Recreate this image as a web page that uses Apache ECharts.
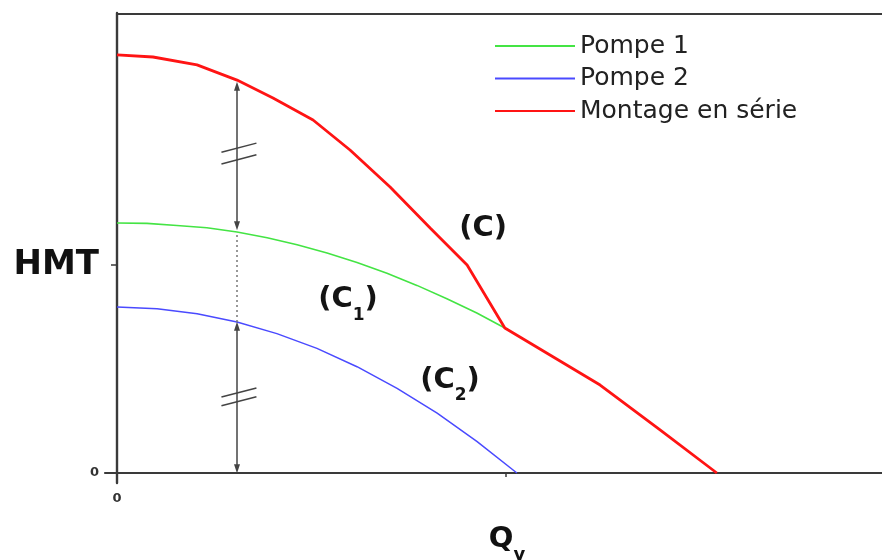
<!DOCTYPE html>
<html>
<head>
<meta charset="utf-8">
<script src="https://cdn.jsdelivr.net/npm/echarts@6/dist/echarts.min.js"></script>
<style>
  html, body { margin: 0; padding: 0; background: #ffffff; }
  #chart { width: 882px; height: 560px; }
</style>
</head>
<body>
<div id="chart"></div>
<script>
// Pump characteristic curves: head (HMT) against flow (Qv), in relative units
// where 1 is the marked tick on each axis.
const qPompe1 = [0, 0.077, 0.154, 0.231, 0.3085, 0.386, 0.463, 0.540, 0.617, 0.694, 0.771, 0.848, 0.925, 0.997];
const hPompe1 = [1.202, 1.200, 1.190, 1.179, 1.159, 1.131, 1.097, 1.058, 1.012, 0.960, 0.902, 0.838, 0.769, 0.697];

const qPompe2 = [0, 0.103, 0.206, 0.3085, 0.411, 0.514, 0.617, 0.720, 0.823, 0.925, 1.028];
const hPompe2 = [0.798, 0.790, 0.766, 0.726, 0.670, 0.599, 0.511, 0.407, 0.288, 0.152, 0];

const qSerie = [0, 0.0925, 0.2057, 0.3085, 0.401, 0.504, 0.599, 0.702, 0.805, 0.900, 0.997, 1.242, 1.396, 1.542];
const hSerie = [2.010, 2.000, 1.962, 1.889, 1.803, 1.697, 1.553, 1.375, 1.178, 1.000, 0.697, 0.423, 0.207, 0];

const seriesNames = ['Pompe 1', 'Pompe 2', 'Montage en série'];

// Axis tick labels
const xLabelValues = [0];
const xLabelTexts = ['0'];
const yLabelValues = [0, 1];
const yLabelTexts = ['0', 'HMT'];
const xTickValues = [1];
const yTickValues = [1];

// Curve tags: text, subscript, position (q, h)
const tagTexts = ['C', 'C', 'C'];
const tagSubs = ['', '1', '2'];
const tagQ = [0.941, 0.594, 0.856];
const tagH = [1.178, 0.832, 0.447];

// Flow at which the head addition is illustrated
const ARROW_Q = 0.3085;

// Axis extents (the axes overshoot the origin slightly)
const X_MIN = -12 / 389, X_MAX = 2;
const Y_MIN = -10 / 208, Y_MAX = 460 / 208;

const zip = (qs, hs) => qs.map((q, i) => [q, hs[i]]);

function headAt(qs, hs, q) {
  for (let i = 1; i < qs.length; i++) {
    if (q <= qs[i]) {
      const t = (q - qs[i - 1]) / (qs[i] - qs[i - 1]);
      return hs[i - 1] + t * (hs[i] - hs[i - 1]);
    }
  }
  return hs[hs.length - 1];
}

const h1 = headAt(qPompe1, hPompe1, ARROW_Q);
const h2 = headAt(qPompe2, hPompe2, ARROW_Q);
const hs = headAt(qSerie, hSerie, ARROW_Q);

const INK = '#3a3a3a';
const arrowStyle = { color: '#444', width: 1.5, type: 'solid' };
const tip = { symbol: 'triangle', symbolSize: [6, 9] };
const TIP_GAP = 0.03;

// Double-headed arrows, dotted link and "//" break marks
const guideLines = [
  [{ coord: [ARROW_Q, h1 + TIP_GAP], ...tip, lineStyle: arrowStyle }, { coord: [ARROW_Q, hs - TIP_GAP], ...tip }],
  [{ coord: [ARROW_Q, 0.02], ...tip, lineStyle: arrowStyle }, { coord: [ARROW_Q, h2 - 0.02], ...tip }],
  [{ coord: [ARROW_Q, h2], symbol: 'none', lineStyle: { color: '#777', width: 1.5, type: [2, 3] } },
   { coord: [ARROW_Q, h1], symbol: 'none' }],
  // top frame of the plot
  [{ coord: [0, Y_MAX - 1 / 208], symbol: 'none', lineStyle: { color: INK, width: 2, type: 'solid' } },
   { coord: [X_MAX, Y_MAX - 1 / 208], symbol: 'none' }]
];
const breakCenters = [(hs + h1) / 2 + 0.012, h2 / 2 + 0.003];
const breakOffsets = [0.028, 0.021];
breakCenters.forEach((hc, k) => {
  [-1, 1].forEach(sgn => {
    const hm = hc + sgn * breakOffsets[k];
    guideLines.push([
      { coord: [ARROW_Q + 0.005 - 0.045, hm - 0.022], symbol: 'none', lineStyle: { color: '#444', width: 1.5, type: 'solid' } },
      { coord: [ARROW_Q + 0.005 + 0.045, hm + 0.022], symbol: 'none' }
    ]);
  });
});

const FONT = 'DejaVu Sans';
const TAG_INK = '#141414';
const tagRich = {
  m: { fontFamily: FONT, fontWeight: 'bold', fontSize: 29, color: TAG_INK, lineHeight: 34 },
  s: { fontFamily: FONT, fontWeight: 'bold', fontSize: 17, color: TAG_INK, lineHeight: 17, padding: [31, 0, 0, 0] }
};

const chart = echarts.init(document.getElementById('chart'), null, { renderer: 'canvas' });

chart.setOption({
  animation: false,
  backgroundColor: '#ffffff',
  grid: { left: 105, right: -13, top: 13, bottom: 77, containLabel: false, outerBoundsMode: 'none' },
  legend: {
    data: seriesNames,
    orient: 'vertical',
    left: 489,
    top: 28,
    itemWidth: 80,
    itemHeight: 14,
    itemGap: 6.5,
    selectedMode: false,
    itemStyle: { opacity: 0 },
    textStyle: { fontFamily: FONT, fontSize: 25, color: '#222', lineHeight: 26 }
  },
  xAxis: {
    type: 'value',
    min: X_MIN,
    max: X_MAX,
    axisLine: { show: true, onZero: true, lineStyle: { color: INK, width: 2.2 } },
    axisTick: { show: true, customValues: xTickValues, length: 4, lineStyle: { color: INK, width: 1.5 } },
    axisLabel: {
      customValues: xLabelValues,
      margin: 9,
      formatter: v => xLabelTexts[xLabelValues.indexOf(v)] ?? '',
      fontFamily: FONT, fontWeight: 'bold', fontSize: 13, color: '#333'
    },
    splitLine: { show: false },
    name: '{q|Q}{v|v}',
    nameLocation: 'middle',
    nameGap: 39,
    nameTextStyle: {
      padding: [0, 0, 0, 14],
      rich: {
        q: { fontFamily: FONT, fontWeight: 'bold', fontSize: 29, color: '#111', lineHeight: 34 },
        v: { fontFamily: FONT, fontWeight: 'bold', fontSize: 18, color: '#111', lineHeight: 18, padding: [32, 0, 0, 0] }
      }
    }
  },
  yAxis: {
    type: 'value',
    min: Y_MIN,
    max: Y_MAX,
    axisLine: { show: true, onZero: true, lineStyle: { color: INK, width: 2.4 } },
    axisTick: { show: true, customValues: yTickValues, length: 6, lineStyle: { color: INK, width: 1.5 } },
    axisLabel: {
      customValues: yLabelValues,
      margin: 6,
      formatter: v => {
        const t = yLabelTexts[yLabelValues.indexOf(v)] ?? '';
        return v === 0 ? '{z|' + t + '}' : '{h|' + t + '}';
      },
      rich: {
        z: { fontFamily: FONT, fontWeight: 'bold', fontSize: 13, color: '#333' },
        h: { fontFamily: FONT, fontWeight: 'bold', fontSize: 34, color: '#111' }
      }
    },
    splitLine: { show: false }
  },
  series: [
    {
      name: seriesNames[0], type: 'line', data: zip(qPompe1, hPompe1),
      symbol: 'none', smooth: false, z: 3, silent: true,
      lineStyle: { color: '#44e444', width: 1.6 }, itemStyle: { color: '#44e444' }
    },
    {
      name: seriesNames[1], type: 'line', data: zip(qPompe2, hPompe2),
      symbol: 'none', smooth: false, z: 3, silent: true,
      lineStyle: { color: '#4a4aff', width: 1.5 }, itemStyle: { color: '#4a4aff' }
    },
    {
      name: seriesNames[2], type: 'line', data: zip(qSerie, hSerie),
      symbol: 'none', smooth: false, z: 4, silent: true,
      lineStyle: { color: '#ff1414', width: 2.8 }, itemStyle: { color: '#ff1414' }
    },
    {
      name: 'guides', type: 'line', data: [[ARROW_Q, 0]],
      symbol: 'none', clip: false, silent: true, z: 2,
      lineStyle: { width: 0 },
      markLine: {
        silent: true,
        animation: false,
        symbol: ['none', 'none'],
        label: { show: false },
        emphasis: { disabled: true },
        lineStyle: { color: '#444', width: 1.5, type: 'solid' },
        data: guideLines
      }
    },
    {
      name: 'tags', type: 'scatter', silent: true, z: 5,
      symbolSize: 1, itemStyle: { color: 'rgba(255,255,255,0)' },
      data: tagQ.map((q, i) => [q, tagH[i]]),
      label: {
        show: true,
        position: 'inside',
        color: TAG_INK,
        opacity: 1,
        formatter: p => {
          const i = p.dataIndex;
          return '{m|(' + tagTexts[i] + '}' + (tagSubs[i] ? '{s|' + tagSubs[i] + '}' : '') + '{m|)}';
        },
        rich: tagRich
      }
    }
  ]
});
</script>
</body>
</html>
